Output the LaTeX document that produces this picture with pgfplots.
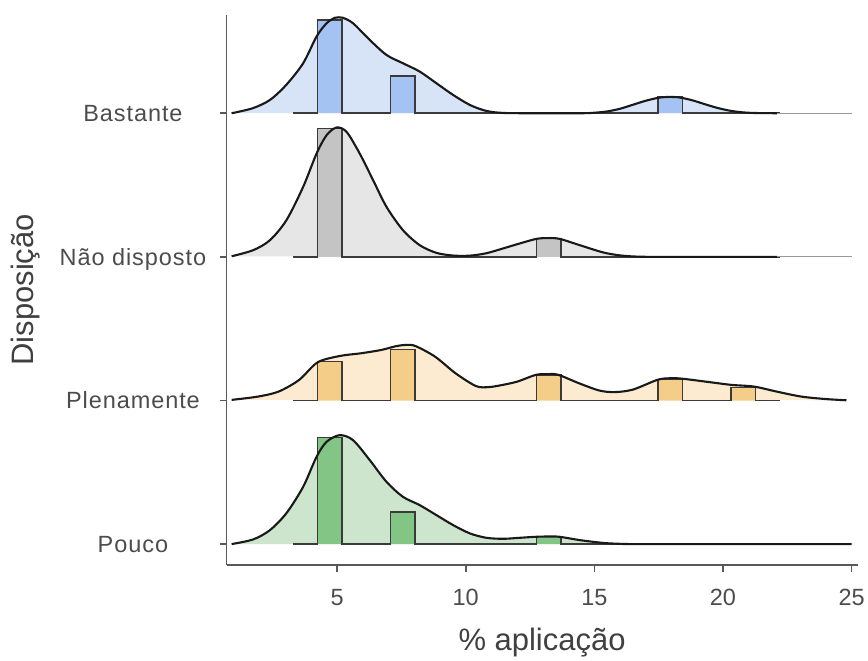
\documentclass[border=0pt]{standalone}
\usepackage{fontspec}
\setmainfont{Liberation Sans}
\newfontfamily\ticfont[LetterSpace=4]{Liberation Sans}
\usepackage{pgfplots}
\pgfplotsset{compat=1.18}
\definecolor{bfill}{HTML}{D7E4F8}
\definecolor{bbar}{HTML}{A4C3F2}
\definecolor{nfill}{HTML}{E6E6E6}
\definecolor{nbar}{HTML}{C4C4C4}
\definecolor{lfill}{HTML}{FCEBD1}
\definecolor{lbar}{HTML}{F4CD88}
\definecolor{pfill}{HTML}{CDE5CC}
\definecolor{pbar}{HTML}{82C584}
\definecolor{histline}{HTML}{3A3A3A}
\begin{document}
\begin{tikzpicture}
\begin{axis}[
  scale only axis, width=631.3pt, height=550pt,
  xmin=0.703, xmax=25.23, ymin=0, ymax=550,
  axis x line*=bottom, axis y line*=left,
  axis line style={black!65, line width=1.7pt, -},
  xtick={5,10,15,20,25},
  ytick={20.6,164.2,308.0,451.7},
  yticklabels={Pouco,Plenamente,Não disposto,Bastante},
  tick align=outside, major tick length=7pt,
  tick style={black!65, line width=1.7pt},
  /pgf/number format/assume math mode=true,
  xticklabel style={font=\fontsize{23.5}{28}\selectfont, text=black!70, anchor=base, yshift=-34pt},
  yticklabel style={font=\ticfont\fontsize{23.5}{28}\selectfont, text=black!70, anchor=base, xshift=-86.7pt, yshift=-8.4pt},
  xlabel={\% aplicação}, ylabel={Disposição},
  every axis x label/.style={at={([yshift=-86pt]axis description cs:0.5,0)}, anchor=base, font=\fontsize{31}{36}\selectfont, text=black!75},
  every axis y label/.style={at={([xshift=-193.4pt]axis description cs:0,0.5)}, rotate=90, anchor=base, font=\fontsize{31}{36}\selectfont, text=black!75},
  clip=false,
]
% ---------------- Bastante ----------------
\addplot[fill=bfill, draw=none, smooth, tension=0.5] coordinates {(0.9,451.7) (1.72,456.7) (2.39,465.0) (3.02,480.0) (3.68,501.7) (4.2,528.4) (4.59,541.7) (4.91,547.2) (5.07,547.7) (5.23,547.2) (5.62,541.7) (6.27,525.0) (6.92,510.0) (7.56,501.7) (8.21,493.4) (8.86,481.7) (9.51,470.0) (10.16,460.0) (10.8,454.0) (11.45,452.0) (12.5,451.7) (14.5,451.7) (15.0,452.2) (15.5,453.5) (16.0,456.2) (16.5,460.2) (17.0,464.2) (17.5,467.2) (17.9,468.0) (18.3,467.5) (18.8,464.7) (19.3,460.7) (19.8,456.9) (20.3,454.1) (20.8,452.5) (21.3,451.9) (22.1,451.7)};
\addplot[fill=bbar, draw=histline, line width=1.5pt] coordinates {(3.3,451.7) (4.245,451.7) (4.245,545.0) (5.19,545.0) (5.19,451.7) (7.08,451.7) (7.08,489.0) (8.025,489.0) (8.025,451.7) (17.475,451.7) (17.475,467.7) (18.42,467.7) (18.42,451.7) (22.2,451.7)};
\addplot[draw=black!90, line width=2.1pt, smooth, tension=0.5] coordinates {(0.9,451.7) (1.72,456.7) (2.39,465.0) (3.02,480.0) (3.68,501.7) (4.2,528.4) (4.59,541.7) (4.91,547.2) (5.07,547.7) (5.23,547.2) (5.62,541.7) (6.27,525.0) (6.92,510.0) (7.56,501.7) (8.21,493.4) (8.86,481.7) (9.51,470.0) (10.16,460.0) (10.8,454.0) (11.45,452.0) (12.5,451.7) (14.5,451.7) (15.0,452.2) (15.5,453.5) (16.0,456.2) (16.5,460.2) (17.0,464.2) (17.5,467.2) (17.9,468.0) (18.3,467.5) (18.8,464.7) (19.3,460.7) (19.8,456.9) (20.3,454.1) (20.8,452.5) (21.3,451.9) (22.1,451.7)};
\addplot[draw=black!40, line width=1.2pt] coordinates {(22.1,451.7) (25.0,451.7)};
% ---------------- Não disposto ----------------
\addplot[fill=nfill, draw=none, smooth, tension=0.5] coordinates {(0.9,308.6) (1.74,314.7) (2.39,324.7) (3.03,344.7) (3.68,378.0) (4.2,411.3) (4.59,429.7) (4.98,437.4) (5.37,433.0) (5.88,411.3) (6.4,384.7) (6.92,358.0) (7.56,334.7) (8.21,319.7) (8.86,312.0) (9.51,309.3) (10.16,309.2) (10.8,311.6) (11.45,316.4) (12.1,321.4) (12.75,326.0) (13.2,326.8) (13.65,326.0) (14.43,319.7) (15.33,312.5) (15.98,309.5) (16.6,308.3) (17.5,308.0) (22.1,308.0)};
\addplot[fill=nbar, draw=histline, line width=1.5pt] coordinates {(3.3,308.0) (4.245,308.0) (4.245,436.4) (5.19,436.4) (5.19,308.0) (12.75,308.0) (12.75,326.4) (13.695,326.4) (13.695,308.0) (22.2,308.0)};
\addplot[draw=black!90, line width=2.1pt, smooth, tension=0.5] coordinates {(0.9,308.6) (1.74,314.7) (2.39,324.7) (3.03,344.7) (3.68,378.0) (4.2,411.3) (4.59,429.7) (4.98,437.4) (5.37,433.0) (5.88,411.3) (6.4,384.7) (6.92,358.0) (7.56,334.7) (8.21,319.7) (8.86,312.0) (9.51,309.3) (10.16,309.2) (10.8,311.6) (11.45,316.4) (12.1,321.4) (12.75,326.0) (13.2,326.8) (13.65,326.0) (14.43,319.7) (15.33,312.5) (15.98,309.5) (16.6,308.3) (17.5,308.0) (22.1,308.0)};
\addplot[draw=black!40, line width=1.2pt] coordinates {(22.1,308.0) (25.0,308.0)};
% ---------------- Plenamente ----------------
\addplot[fill=lfill, draw=none, smooth, tension=0.5] coordinates {(0.9,164.9) (1.925,168.2) (2.725,173.2) (3.525,184.9) (4.245,202.5) (5.125,208.9) (5.925,211.5) (6.725,214.9) (7.3,218.7) (7.7,219.9) (8.05,218.7) (8.805,208.2) (9.605,191.5) (10.4,178.7) (10.9,177.7) (11.4,179.7) (12.005,183.2) (12.725,189.9) (13.2,190.7) (13.605,189.9) (14.405,181.5) (15.2,174.2) (15.8,172.7) (16.5,175.2) (17.445,184.9) (17.9,186.5) (18.373,186.2) (19.525,182.5) (20.325,179.9) (21.205,178.2) (22.085,173.2) (23.045,168.2) (24.005,165.7) (24.8,164.5)};
\addplot[fill=lbar, draw=histline, line width=1.5pt] coordinates {(3.3,164.2) (4.245,164.2) (4.245,203.2) (5.19,203.2) (5.19,164.2) (7.08,164.2) (7.08,215.5) (8.025,215.5) (8.025,164.2) (12.75,164.2) (12.75,189.9) (13.695,189.9) (13.695,164.2) (17.475,164.2) (17.475,185.5) (18.42,185.5) (18.42,164.2) (20.31,164.2) (20.31,177.5) (21.255,177.5) (21.255,164.2) (22.2,164.2)};
\addplot[draw=black!90, line width=2.1pt, smooth, tension=0.5] coordinates {(0.9,164.9) (1.925,168.2) (2.725,173.2) (3.525,184.9) (4.245,202.5) (5.125,208.9) (5.925,211.5) (6.725,214.9) (7.3,218.7) (7.7,219.9) (8.05,218.7) (8.805,208.2) (9.605,191.5) (10.4,178.7) (10.9,177.7) (11.4,179.7) (12.005,183.2) (12.725,189.9) (13.2,190.7) (13.605,189.9) (14.405,181.5) (15.2,174.2) (15.8,172.7) (16.5,175.2) (17.445,184.9) (17.9,186.5) (18.373,186.2) (19.525,182.5) (20.325,179.9) (21.205,178.2) (22.085,173.2) (23.045,168.2) (24.005,165.7) (24.8,164.5)};
% ---------------- Pouco ----------------
\addplot[fill=pfill, draw=none, smooth, tension=0.5] coordinates {(0.9,20.6) (1.74,25.3) (2.39,34.6) (3.03,51.6) (3.68,77.9) (4.2,107.9) (4.59,122.9) (5.1,129.6) (5.62,124.6) (6.27,104.6) (6.92,82.9) (7.56,67.9) (8.21,59.6) (8.86,49.6) (9.51,39.6) (10.16,31.3) (10.8,26.9) (11.45,25.9) (12.1,26.9) (12.73,27.9) (13.2,28.2) (13.65,27.9) (14.43,24.6) (15.33,21.8) (15.98,20.9) (17.0,20.6) (25.0,20.6)};
\addplot[fill=pbar, draw=histline, line width=1.5pt] coordinates {(3.3,20.6) (4.245,20.6) (4.245,127.3) (5.19,127.3) (5.19,20.6) (7.08,20.6) (7.08,52.9) (8.025,52.9) (8.025,20.6) (12.75,20.6) (12.75,28.1) (13.695,28.1) (13.695,20.6) (22.2,20.6)};
\addplot[draw=black!90, line width=2.1pt, smooth, tension=0.5] coordinates {(0.9,20.6) (1.74,25.3) (2.39,34.6) (3.03,51.6) (3.68,77.9) (4.2,107.9) (4.59,122.9) (5.1,129.6) (5.62,124.6) (6.27,104.6) (6.92,82.9) (7.56,67.9) (8.21,59.6) (8.86,49.6) (9.51,39.6) (10.16,31.3) (10.8,26.9) (11.45,25.9) (12.1,26.9) (12.73,27.9) (13.2,28.2) (13.65,27.9) (14.43,24.6) (15.33,21.8) (15.98,20.9) (17.0,20.6) (25.0,20.6)};
% bounding box matching the reference canvas
\path (rel axis cs:0,0) ++(-226.7pt,-94pt) rectangle ++(868pt,659pt);
\end{axis}
\end{tikzpicture}
\end{document}
